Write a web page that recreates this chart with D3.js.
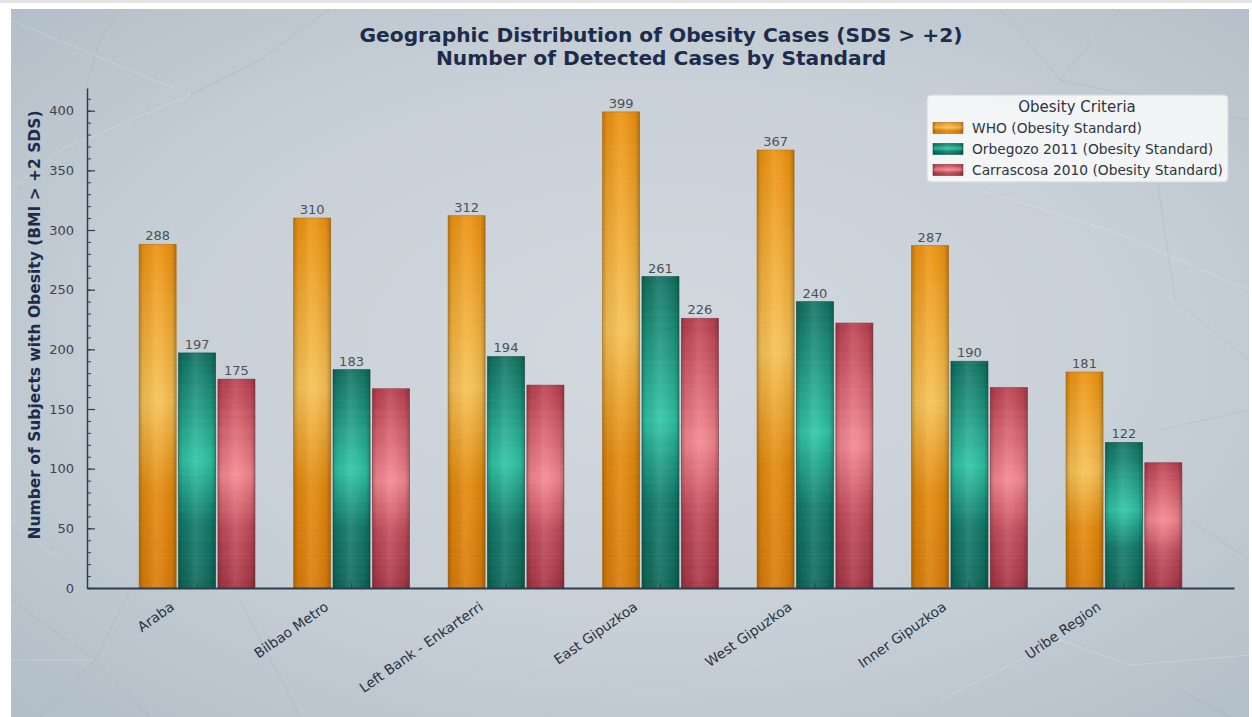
<!DOCTYPE html>
<html>
<head>
<meta charset="utf-8">
<script src="https://cdn.jsdelivr.net/npm/d3@7/dist/d3.min.js"></script>
<style>
  html, body { margin: 0; padding: 0; background: #ffffff; }
  svg { display: block; font-family: "DejaVu Sans", sans-serif; }
</style>
</head>
<body>
<svg id="chart" width="1252" height="717"></svg>
<script>
// Regions of the Basque Country and detected obesity cases per criterion
const regions = ["Araba", "Bilbao Metro", "Left Bank - Enkarterri", "East Gipuzkoa",
                 "West Gipuzkoa", "Inner Gipuzkoa", "Uribe Region"];
const seriesNames = ["WHO (Obesity Standard)", "Orbegozo 2011 (Obesity Standard)",
                     "Carrascosa 2010 (Obesity Standard)"];
const whoCases        = [288, 310, 312, 399, 367, 287, 181];
const orbegozoCases   = [197, 183, 194, 261, 240, 190, 122];
const carrascosaCases = [175, 167, 170, 226, 222, 168, 105];
// which series carry a printed value label above the bar, per region
const labelledWho        = [true, true, true, true, true, true, true];
const labelledOrbegozo   = [true, true, true, true, true, true, true];
const labelledCarrascosa = [true, false, false, true, false, false, false];
const yTicks = [0, 50, 100, 150, 200, 250, 300, 350, 400];

const titleLines = ["Geographic Distribution of Obesity Cases (SDS > +2)",
                    "Number of Detected Cases by Standard"];
const yTitle = "Number of Subjects with Obesity (BMI > +2 SDS)";
const legendTitle = "Obesity Criteria";

const seriesValues = [whoCases, orbegozoCases, carrascosaCases];
const seriesLabelled = [labelledWho, labelledOrbegozo, labelledCarrascosa];

// palette per series: top, glow, lower, bottom, outline
const palettes = [
  { top: "#ea900d", glow: "#f5c053", low: "#e1880b", bottom: "#d67a06", edge: "#b8690c" },
  { top: "#0f6f5f", glow: "#2ec3a3", low: "#11796a", bottom: "#0c6656", edge: "#0a5548" },
  { top: "#b83d4d", glow: "#f2868f", low: "#c04a59", bottom: "#a43343", edge: "#8e2b39" }
];

const W = 1252, H = 717;
const margin = { left: 87, right: 1234, top: 88, bottom: 588 };

const svg = d3.select("#chart");
const defs = svg.append("defs");

// ---- background panel ----
const bgGrad = defs.append("radialGradient").attr("id", "bgGrad")
  .attr("cx", "52%").attr("cy", "48%").attr("r", "72%");
bgGrad.append("stop").attr("offset", "0%").attr("stop-color", "#d2d8de");
bgGrad.append("stop").attr("offset", "55%").attr("stop-color", "#c8d0d7");
bgGrad.append("stop").attr("offset", "100%").attr("stop-color", "#b2bec8");

svg.append("rect").attr("x", 0).attr("y", 0).attr("width", W).attr("height", H).attr("fill", "#ffffff");
svg.append("rect").attr("x", 0).attr("y", 0).attr("width", W).attr("height", 3).attr("fill", "#e4e4e4");
svg.append("rect").attr("x", 11).attr("y", 9).attr("width", 1238).attr("height", H - 9)
  .attr("fill", "url(#bgGrad)");

// faint low-poly mesh lines in the backdrop
const mesh = [
  [[11, 20], [70, 45], [190, 95]], [[120, 9], [100, 40], [85, 90]],
  [[190, 95], [260, 60], [330, 9]], [[11, 190], [60, 150], [190, 95]],
  [[1000, 9], [1060, 80], [1249, 120]], [[1060, 80], [1120, 9]],
  [[980, 190], [1110, 230], [1249, 290]], [[1150, 130], [1175, 300], [1249, 360]],
  [[1160, 430], [1249, 410]], [[1130, 665], [1249, 655]], [[1190, 520], [1249, 560]],
  [[11, 600], [95, 660], [150, 717]], [[11, 660], [95, 660]], [[95, 660], [130, 590]],
  [[40, 717], [95, 660]], [[940, 700], [1060, 640], [1130, 665]], [[1180, 690], [1230, 717]],
  [[240, 600], [300, 717]], [[11, 520], [60, 560]]
];
const meshLine = d3.line().curve(d3.curveLinear);
svg.append("g").selectAll("path").data(mesh).join("path")
  .attr("d", d => meshLine(d))
  .attr("fill", "none")
  .attr("stroke", (d, i) => i % 3 === 0 ? "rgba(255,255,255,0.2)" : "rgba(110,125,140,0.14)")
  .attr("stroke-width", 1);

// ---- scales ----
const x0 = d3.scaleBand().domain(regions).range([margin.left, margin.right])
  .paddingInner(0.25).paddingOuter(0.3375);
const x1 = d3.scaleBand().domain(d3.range(seriesNames.length)).range([0, x0.bandwidth()])
  .paddingInner(0.06);
const y = d3.scaleLinear().domain([0, 419]).range([margin.bottom, margin.top]);

// ---- gradients for the cylindrical bars ----
palettes.forEach((p, i) => {
  const g = defs.append("linearGradient").attr("id", "barFill" + i)
    .attr("x1", 0).attr("y1", 0).attr("x2", 0).attr("y2", 1);
  g.append("stop").attr("offset", "0%").attr("stop-color", p.top);
  g.append("stop").attr("offset", "46%").attr("stop-color", p.glow);
  g.append("stop").attr("offset", "72%").attr("stop-color", p.low);
  g.append("stop").attr("offset", "100%").attr("stop-color", p.bottom);
});
const shade = defs.append("linearGradient").attr("id", "barShade")
  .attr("x1", 0).attr("y1", 0).attr("x2", 1).attr("y2", 0);
shade.append("stop").attr("offset", "0%").attr("stop-color", "#000").attr("stop-opacity", 0.22);
shade.append("stop").attr("offset", "12%").attr("stop-color", "#000").attr("stop-opacity", 0.05);
shade.append("stop").attr("offset", "45%").attr("stop-color", "#fff").attr("stop-opacity", 0.10);
shade.append("stop").attr("offset", "60%").attr("stop-color", "#fff").attr("stop-opacity", 0.06);
shade.append("stop").attr("offset", "88%").attr("stop-color", "#000").attr("stop-opacity", 0.06);
shade.append("stop").attr("offset", "100%").attr("stop-color", "#000").attr("stop-opacity", 0.25);

// brushed-metal streak texture
const brush = defs.append("filter").attr("id", "brushed")
  .attr("x", 0).attr("y", 0).attr("width", 1).attr("height", 1);
brush.append("feTurbulence").attr("type", "fractalNoise")
  .attr("baseFrequency", "0.004 0.45").attr("numOctaves", 2).attr("seed", 3).attr("result", "noise");
brush.append("feColorMatrix").attr("in", "noise").attr("type", "matrix")
  .attr("values", "0 0 0 0 1  0 0 0 0 1  0 0 0 0 1  0 0 0 0.5 -0.18").attr("result", "streaks");
brush.append("feComposite").attr("in", "streaks").attr("in2", "SourceGraphic").attr("operator", "in");

// ---- bars ----
const rows = regions.map((r, ri) => ({
  region: r,
  bars: seriesValues.map((vals, si) => ({ si, value: vals[ri], labelled: seriesLabelled[si][ri] }))
}));

const groups = svg.append("g").selectAll("g").data(rows).join("g")
  .attr("transform", d => `translate(${x0(d.region)},0)`);

const barSel = groups.selectAll("g.bar").data(d => d.bars).join("g").attr("class", "bar");
barSel.append("rect")
  .attr("x", d => x1(d.si)).attr("width", x1.bandwidth())
  .attr("y", d => y(d.value)).attr("height", d => y(0) - y(d.value))
  .attr("fill", d => `url(#barFill${d.si})`)
  .attr("stroke", d => palettes[d.si].edge).attr("stroke-width", 0.8).attr("stroke-opacity", 0.7);
barSel.append("rect")
  .attr("x", d => x1(d.si)).attr("width", x1.bandwidth())
  .attr("y", d => y(d.value)).attr("height", d => y(0) - y(d.value))
  .attr("fill", "url(#barShade)");
barSel.append("rect")
  .attr("x", d => x1(d.si)).attr("width", x1.bandwidth())
  .attr("y", d => y(d.value)).attr("height", d => y(0) - y(d.value))
  .attr("fill", "#fff").attr("filter", "url(#brushed)").attr("opacity", 0.16);

// value labels
barSel.filter(d => d.labelled).append("text")
  .attr("x", d => x1(d.si) + x1.bandwidth() / 2)
  .attr("y", d => y(d.value) - 4)
  .attr("text-anchor", "middle")
  .attr("font-size", 13).attr("fill", "#4b5059")
  .text(d => d.value);

// ---- axes ----
const axisColor = "#2c3e50";
const yMinor = svg.append("g").attr("transform", `translate(${margin.left},0)`)
  .call(d3.axisLeft(y).tickValues(d3.range(0, 420, 10)).tickSize(-4).tickSizeOuter(0).tickFormat(""));
yMinor.select(".domain").remove();
yMinor.selectAll("line").attr("stroke", axisColor).attr("stroke-width", 1);

const yAxis = svg.append("g").attr("transform", `translate(${margin.left},0)`)
  .call(d3.axisLeft(y).tickValues(yTicks).tickSize(-8).tickSizeOuter(0).tickPadding(13));
yAxis.select(".domain").attr("stroke", axisColor).attr("stroke-width", 1.5);
yAxis.selectAll(".tick line").attr("stroke", axisColor).attr("stroke-width", 1.2);
yAxis.selectAll(".tick text").attr("font-size", 13).attr("fill", "#3c4350")
  .attr("font-family", "DejaVu Sans, sans-serif");

const xAxis = svg.append("g").attr("transform", `translate(0,${margin.bottom})`)
  .call(d3.axisBottom(x0).tickSize(-5).tickSizeOuter(0).tickFormat(""));
xAxis.select(".domain").attr("stroke", axisColor).attr("stroke-width", 1.8);
xAxis.selectAll(".tick line").attr("stroke", axisColor).attr("stroke-width", 1);

// rotated category labels
svg.append("g").selectAll("text").data(regions).join("text")
  .attr("transform", d => `translate(${x0(d) + x0.bandwidth() / 2 - 22},${margin.bottom + 21}) rotate(-35)`)
  .attr("text-anchor", "end")
  .attr("font-size", 13.8).attr("fill", "#2a3342")
  .text(d => d);

// ---- titles ----
svg.append("g").selectAll("text").data(titleLines).join("text")
  .attr("x", 661).attr("y", (d, i) => 42 + i * 23)
  .attr("text-anchor", "middle")
  .attr("font-size", 20.2).attr("font-weight", "bold").attr("fill", "#1e2c4b")
  .text(d => d);

svg.append("text")
  .attr("transform", `translate(40,325) rotate(-90)`)
  .attr("text-anchor", "middle")
  .attr("font-size", 15.5).attr("font-weight", "bold").attr("fill", "#1e2c4b")
  .text(yTitle);

// ---- legend ----
const legend = svg.append("g").attr("transform", "translate(927,95)");
legend.append("rect").attr("width", 301).attr("height", 87).attr("rx", 4)
  .attr("fill", "rgba(250,251,252,0.85)").attr("stroke", "#d4d8dc");
legend.append("text").attr("x", 150).attr("y", 17).attr("text-anchor", "middle")
  .attr("font-size", 15).attr("fill", "#2e3440").text(legendTitle);
const items = legend.selectAll("g.item").data(seriesNames).join("g").attr("class", "item")
  .attr("transform", (d, i) => `translate(6,${33 + i * 21})`);
items.append("rect").attr("width", 30).attr("height", 11).attr("y", -5.5)
  .attr("fill", (d, i) => `url(#barFill${i})`)
  .attr("stroke", (d, i) => palettes[i].edge).attr("stroke-width", 0.6);
items.append("rect").attr("width", 30).attr("height", 11).attr("y", -5.5)
  .attr("fill", "url(#barShade)");
items.append("text").attr("x", 39).attr("y", 5)
  .attr("font-size", 13.8).attr("fill", "#2e3440").text(d => d);
</script>
</body>
</html>
